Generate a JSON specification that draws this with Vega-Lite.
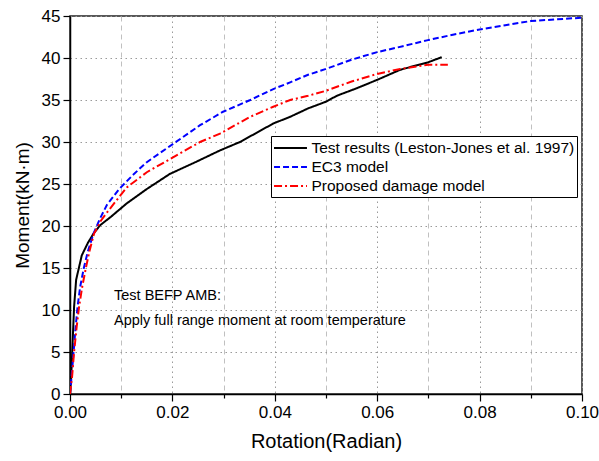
{
  "$schema": "https://vega.github.io/schema/vega-lite/v6.json",
  "width": 512,
  "height": 378,
  "autosize": {"type": "none"},
  "padding": {"left": 70, "top": 16, "right": 17, "bottom": 67},
  "background": "white",
  "config": {
    "font": "Liberation Sans",
    "view": {"stroke": "#222", "strokeWidth": 1.5},
    "axis": {
      "domainColor": "black",
      "domainWidth": 1.5,
      "tickColor": "black",
      "tickWidth": 1.2,
      "labelColor": "black",
      "labelFont": "Liberation Sans",
      "labelFontSize": 17,
      "titleFont": "Liberation Sans",
      "titleFontWeight": "normal",
      "titleColor": "black"
    },
    "legend": {
      "orient": "none",
      "legendX": 201,
      "legendY": 120,
      "title": null,
      "strokeColor": "black",
      "fillColor": "white",
      "padding": 2,
      "symbolType": "M-1.83,0H1.83",
      "symbolSize": 324,
      "symbolOffset": 7.5,
      "symbolStrokeWidth": 2,
      "labelFontSize": 15.5,
      "labelFont": "Liberation Sans",
      "labelColor": "black",
      "labelOffset": 11,
      "labelLimit": 400,
      "rowPadding": 0
    }
  },
  "layer": [
    {
      "data": {
        "values": [
          {"s": "Test results (Leston-Jones et al. 1997)", "x": 0, "y": 0},
          {"s": "Test results (Leston-Jones et al. 1997)", "x": 0.0003, "y": 3},
          {"s": "Test results (Leston-Jones et al. 1997)", "x": 0.0005, "y": 6},
          {"s": "Test results (Leston-Jones et al. 1997)", "x": 0.0008, "y": 10.4},
          {"s": "Test results (Leston-Jones et al. 1997)", "x": 0.0012, "y": 13.6},
          {"s": "Test results (Leston-Jones et al. 1997)", "x": 0.0023, "y": 16.5},
          {"s": "Test results (Leston-Jones et al. 1997)", "x": 0.0035, "y": 18},
          {"s": "Test results (Leston-Jones et al. 1997)", "x": 0.0046, "y": 19.1},
          {"s": "Test results (Leston-Jones et al. 1997)", "x": 0.0059, "y": 20.1},
          {"s": "Test results (Leston-Jones et al. 1997)", "x": 0.008, "y": 21.1},
          {"s": "Test results (Leston-Jones et al. 1997)", "x": 0.0111, "y": 22.7},
          {"s": "Test results (Leston-Jones et al. 1997)", "x": 0.015, "y": 24.4},
          {"s": "Test results (Leston-Jones et al. 1997)", "x": 0.0195, "y": 26.2},
          {"s": "Test results (Leston-Jones et al. 1997)", "x": 0.0245, "y": 27.6},
          {"s": "Test results (Leston-Jones et al. 1997)", "x": 0.0293, "y": 29.0},
          {"s": "Test results (Leston-Jones et al. 1997)", "x": 0.0332, "y": 30.0},
          {"s": "Test results (Leston-Jones et al. 1997)", "x": 0.0397, "y": 32.2},
          {"s": "Test results (Leston-Jones et al. 1997)", "x": 0.043, "y": 33.0},
          {"s": "Test results (Leston-Jones et al. 1997)", "x": 0.0465, "y": 34.0},
          {"s": "Test results (Leston-Jones et al. 1997)", "x": 0.05, "y": 34.8},
          {"s": "Test results (Leston-Jones et al. 1997)", "x": 0.0521, "y": 35.5},
          {"s": "Test results (Leston-Jones et al. 1997)", "x": 0.056, "y": 36.4},
          {"s": "Test results (Leston-Jones et al. 1997)", "x": 0.06, "y": 37.4},
          {"s": "Test results (Leston-Jones et al. 1997)", "x": 0.0645, "y": 38.6},
          {"s": "Test results (Leston-Jones et al. 1997)", "x": 0.07, "y": 39.5},
          {"s": "Test results (Leston-Jones et al. 1997)", "x": 0.0726, "y": 40.1},

          {"s": "EC3 model", "x": 0, "y": 0},
          {"s": "EC3 model", "x": 0.0003, "y": 2},
          {"s": "EC3 model", "x": 0.0007, "y": 5},
          {"s": "EC3 model", "x": 0.0011, "y": 8},
          {"s": "EC3 model", "x": 0.0015, "y": 10.5},
          {"s": "EC3 model", "x": 0.002, "y": 12.8},
          {"s": "EC3 model", "x": 0.0027, "y": 15},
          {"s": "EC3 model", "x": 0.0035, "y": 17},
          {"s": "EC3 model", "x": 0.0046, "y": 19.1},
          {"s": "EC3 model", "x": 0.0058, "y": 20.8},
          {"s": "EC3 model", "x": 0.0072, "y": 22.5},
          {"s": "EC3 model", "x": 0.0096, "y": 24.4},
          {"s": "EC3 model", "x": 0.0125, "y": 26.2},
          {"s": "EC3 model", "x": 0.015, "y": 27.6},
          {"s": "EC3 model", "x": 0.0202, "y": 29.8},
          {"s": "EC3 model", "x": 0.0254, "y": 32.0},
          {"s": "EC3 model", "x": 0.0299, "y": 33.6},
          {"s": "EC3 model", "x": 0.0352, "y": 35.0},
          {"s": "EC3 model", "x": 0.0397, "y": 36.3},
          {"s": "EC3 model", "x": 0.043, "y": 37.1},
          {"s": "EC3 model", "x": 0.0465, "y": 38.0},
          {"s": "EC3 model", "x": 0.05, "y": 38.7},
          {"s": "EC3 model", "x": 0.055, "y": 39.8},
          {"s": "EC3 model", "x": 0.06, "y": 40.7},
          {"s": "EC3 model", "x": 0.065, "y": 41.4},
          {"s": "EC3 model", "x": 0.0697, "y": 42.1},
          {"s": "EC3 model", "x": 0.075, "y": 42.8},
          {"s": "EC3 model", "x": 0.08, "y": 43.4},
          {"s": "EC3 model", "x": 0.085, "y": 43.9},
          {"s": "EC3 model", "x": 0.09, "y": 44.4},
          {"s": "EC3 model", "x": 0.095, "y": 44.6},
          {"s": "EC3 model", "x": 0.1, "y": 44.8},

          {"s": "Proposed damage model", "x": 0, "y": 0},
          {"s": "Proposed damage model", "x": 0.0004, "y": 2},
          {"s": "Proposed damage model", "x": 0.0008, "y": 5},
          {"s": "Proposed damage model", "x": 0.0013, "y": 8},
          {"s": "Proposed damage model", "x": 0.0018, "y": 10.5},
          {"s": "Proposed damage model", "x": 0.0024, "y": 12.8},
          {"s": "Proposed damage model", "x": 0.0031, "y": 15},
          {"s": "Proposed damage model", "x": 0.0038, "y": 17},
          {"s": "Proposed damage model", "x": 0.0047, "y": 19.1},
          {"s": "Proposed damage model", "x": 0.006, "y": 20.6},
          {"s": "Proposed damage model", "x": 0.0072, "y": 21.6},
          {"s": "Proposed damage model", "x": 0.0111, "y": 24.6},
          {"s": "Proposed damage model", "x": 0.015, "y": 26.4},
          {"s": "Proposed damage model", "x": 0.0202, "y": 28.2},
          {"s": "Proposed damage model", "x": 0.0254, "y": 30.0},
          {"s": "Proposed damage model", "x": 0.0293, "y": 31.0},
          {"s": "Proposed damage model", "x": 0.0352, "y": 33.0},
          {"s": "Proposed damage model", "x": 0.0397, "y": 34.2},
          {"s": "Proposed damage model", "x": 0.043, "y": 35.0},
          {"s": "Proposed damage model", "x": 0.0465, "y": 35.5},
          {"s": "Proposed damage model", "x": 0.05, "y": 36.1},
          {"s": "Proposed damage model", "x": 0.055, "y": 37.2},
          {"s": "Proposed damage model", "x": 0.06, "y": 38.1},
          {"s": "Proposed damage model", "x": 0.0645, "y": 38.7},
          {"s": "Proposed damage model", "x": 0.07, "y": 39.2},
          {"s": "Proposed damage model", "x": 0.0738, "y": 39.2}
        ]
      },
      "mark": {"type": "line", "strokeWidth": 2, "clip": true},
      "encoding": {
        "x": {
          "field": "x",
          "type": "quantitative",
          "scale": {"domain": [0, 0.1], "nice": false, "zero": false},
          "axis": {
            "title": "Rotation(Radian)",
            "titleFontSize": 20,
            "titlePadding": 11,
            "values": [0, 0.01, 0.02, 0.03, 0.04, 0.05, 0.06, 0.07, 0.08, 0.09, 0.1],
            "format": ".2f",
            "labelExpr": "round(datum.value*100) % 2 == 0 ? datum.label : ''",
            "labelPadding": 3,
            "labelFlush": false,
            "tickSize": {"condition": {"test": "round(datum.value*100) % 2 == 1", "value": 4}, "value": 7},
            "grid": true,
            "gridColor": {"condition": {"test": "round(datum.value*100) % 2 == 1", "value": "#c0c0c0"}, "value": "#9a9a9a"},
            "gridDash": {"condition": {"test": "round(datum.value*100) % 2 == 1", "value": [5, 4]}, "value": [1.5, 3.5]},
            "gridWidth": 1
          }
        },
        "y": {
          "field": "y",
          "type": "quantitative",
          "scale": {"domain": [0, 45], "nice": false},
          "axis": {
            "title": "Moment(kN·m)",
            "titleFontSize": 19,
            "titlePadding": 9,
            "values": [0, 5, 10, 15, 20, 25, 30, 35, 40, 45],
            "tickSize": 7,
            "labelPadding": 3,
            "labelFlush": false,
            "grid": true,
            "gridColor": "#9a9a9a",
            "gridDash": [1.5, 3.5],
            "gridWidth": 1
          }
        },
        "color": {
          "field": "s",
          "type": "nominal",
          "scale": {
            "domain": ["Test results (Leston-Jones et al. 1997)", "EC3 model", "Proposed damage model"],
            "range": ["black", "#0000ff", "#ff0000"]
          },
          "legend": {"title": null}
        },
        "strokeDash": {
          "field": "s",
          "type": "nominal",
          "scale": {
            "domain": ["Test results (Leston-Jones et al. 1997)", "EC3 model", "Proposed damage model"],
            "range": [[1, 0], [6, 3], [8, 3, 2, 3]]
          },
          "legend": {"title": null}
        }
      }
    },
    {
      "data": {
        "values": [
          {"x": 0.0086, "y": 11.2, "t": "Test BEFP AMB:"},
          {"x": 0.0086, "y": 8.2, "t": "Apply full range moment at room temperature"}
        ]
      },
      "mark": {"type": "text", "align": "left", "baseline": "alphabetic", "fontSize": 14.5, "color": "black"},
      "encoding": {
        "x": {"field": "x", "type": "quantitative"},
        "y": {"field": "y", "type": "quantitative"},
        "text": {"field": "t"}
      }
    }
  ]
}
